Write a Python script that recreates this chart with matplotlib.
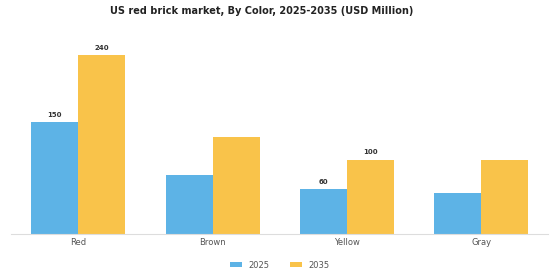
import numpy as np
import matplotlib
matplotlib.use("Agg")
import matplotlib.pyplot as plt

categories = ["Red", "Brown", "Yellow", "Gray"]
values_2025 = [150, 80, 60, 55]
values_2035 = [240, 130, 100, 100]
labels_2025 = ["150", "", "60", ""]
labels_2035 = ["240", "", "100", ""]

blue = "#5DB3E6"
orange = "#F9C34A"

fig = plt.figure(figsize=(5.6, 2.8), dpi=100)
ax = fig.add_axes([0.02, 0.164, 0.959, 0.718])

x = np.arange(len(categories))
w = 0.35
b1 = ax.bar(x - w / 2, values_2025, w, color=blue, label="2025")
b2 = ax.bar(x + w / 2, values_2035, w, color=orange, label="2035")

for bars, labs in [(b1, labels_2025), (b2, labels_2035)]:
    for rect, lab in zip(bars, labs):
        if lab:
            ax.text(rect.get_x() + rect.get_width() / 2, rect.get_height() + 6, lab,
                    ha="center", va="bottom", fontsize=5, fontweight="bold", color="#333333")

ax.set_xlim(-0.5, 3.5)
ax.set_ylim(0, 270)
ax.set_xticks(x)
ax.set_xticklabels(categories, fontsize=6, color="#555555")
ax.tick_params(axis="x", length=0, pad=3)
ax.set_yticks([])
for s in ["top", "right", "left"]:
    ax.spines[s].set_visible(False)
ax.spines["bottom"].set_color("#dddddd")
ax.spines["bottom"].set_linewidth(0.8)

fig.suptitle("US red brick market, By Color, 2025-2035 (USD Million)",
             fontsize=7, fontweight="bold", x=0.467, y=0.98, color="#222222")

fig.legend(handles=[b1, b2], labels=["2025", "2035"], loc="lower center",
           bbox_to_anchor=(0.5, 0.01), ncol=2, frameon=False, fontsize=6,
           handlelength=1.4, handleheight=0.5, columnspacing=2.5, labelcolor="#555555")

fig.savefig("out.png", dpi=100)
